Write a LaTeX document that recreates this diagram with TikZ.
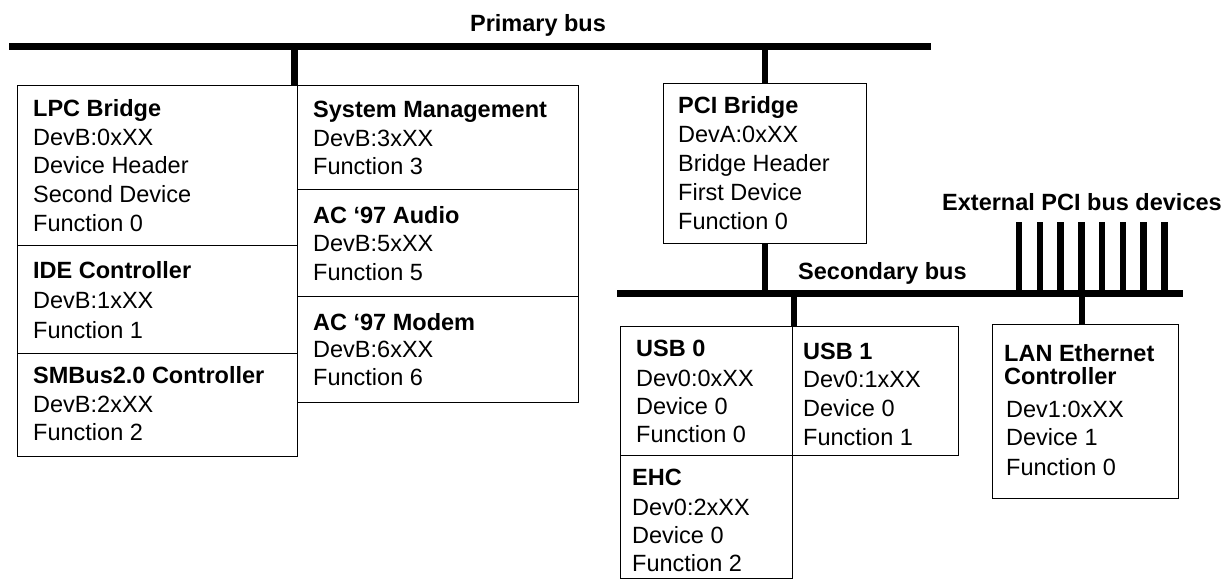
\documentclass[tikz,border=0pt]{standalone}
\usepackage{fontspec}
\setmainfont{Liberation Sans}
\begin{document}
\begin{tikzpicture}[x=1pt,y=-1pt,
  box/.style={draw, line width=1.3pt, anchor=north west, inner sep=0pt},
  bus/.style={line width=7pt},
  stub/.style={line width=6.5pt},
  txt/.style={anchor=base west, inner sep=0pt, font=\fontsize{23.5}{28}\selectfont},
  ttl/.style={anchor=base west, inner sep=0pt, font=\fontsize{23.5}{28}\selectfont\bfseries}]
\useasboundingbox (0,0) rectangle (1223,579);

% boxes
\node[box, minimum width=280pt, minimum height=160pt] (lpc) at (17,85) {};
\node[box, minimum width=280pt, minimum height=108pt] (ide) at (17,245) {};
\node[box, minimum width=280pt, minimum height=103pt] (smb) at (17,353) {};
\node[box, minimum width=281pt, minimum height=104pt] (sys) at (297,85) {};
\node[box, minimum width=281pt, minimum height=107pt] (aud) at (297,189) {};
\node[box, minimum width=281pt, minimum height=106pt] (mod) at (297,296) {};
\node[box, minimum width=203pt, minimum height=160pt] (pci) at (663,83) {};
\node[box, minimum width=171.5pt, minimum height=129pt] (usb0) at (620,326) {};
\node[box, minimum width=166.5pt, minimum height=129pt] (usb1) at (791.5,326) {};
\node[box, minimum width=171.5pt, minimum height=123pt] (ehc) at (620,455) {};
\node[box, minimum width=186pt, minimum height=174pt] (lan) at (992,324) {};

% buses
\coordinate (pbL) at (9,46);
\coordinate (pbR) at (931,46);
\draw[bus] (pbL) -- (pbR);
\coordinate (sbL) at (617,293);
\coordinate (sbR) at (1183,293);
\draw[bus] (sbL) -- (sbR);

% stubs
\coordinate (pb-lpc) at (294.5,46);
\draw[stub] (pb-lpc) -- (pb-lpc |- lpc.north);
\coordinate (pb-pci) at (765,46);
\draw[stub] (pb-pci) -- (pb-pci |- pci.north);
\draw[stub] (pb-pci |- pci.south) -- (pb-pci |- sbL);
\coordinate (sb-usb) at (794,293);
\draw[stub] (sb-usb) -- (sb-usb |- usb0.north);
\coordinate (sb-lan) at (1082,293);
\draw[stub] (sb-lan) -- (sb-lan |- lan.north);
\foreach \i in {0,...,7} {
  \coordinate (ext\i) at (1019+20.75*\i,222);
  \draw[stub] (ext\i) -- (ext\i |- sbR);
}

% bus labels
\node[ttl, anchor=base] (lblP) at (538,31.5) {Primary bus};
\node[ttl] (lblS) at (798,279.5) {Secondary bus};
\node[ttl] (lblE) at (942,210.5) {External PCI bus devices};

% LPC
\node[ttl] (lpc1) at (33,116.5) {LPC Bridge};
\node[txt] (lpc2) at (33,145.2) {DevB:0xXX};
\node[txt] (lpc3) at (33,173.9) {Device Header};
\node[txt] (lpc4) at (33,202.6) {Second Device};
\node[txt] (lpc5) at (33,231.3) {Function 0};
% IDE
\node[ttl] (ide1) at (33,278.5) {IDE Controller};
\node[txt] (ide2) at (33,308.5) {DevB:1xXX};
\node[txt] (ide3) at (33,338.5) {Function 1};
% SMBus
\node[ttl] (smb1) at (33,383.5) {SMBus2.0 Controller};
\node[txt] (smb2) at (33,412.5) {DevB:2xXX};
\node[txt] (smb3) at (33,440.5) {Function 2};
% System management
\node[ttl] (sys1) at (313,117.5) {System Management};
\node[txt] (sys2) at (313,146.5) {DevB:3xXX};
\node[txt] (sys3) at (313,174.5) {Function 3};
% Audio
\node[ttl] (aud1) at (313,223.5) {AC ‘97 Audio};
\node[txt] (aud2) at (313,251.5) {DevB:5xXX};
\node[txt] (aud3) at (313,280.5) {Function 5};
% Modem
\node[ttl] (mod1) at (313,330.5) {AC ‘97 Modem};
\node[txt] (mod2) at (313,357.5) {DevB:6xXX};
\node[txt] (mod3) at (313,385.5) {Function 6};
% PCI bridge
\node[ttl] (pci1) at (678,113.5) {PCI Bridge};
\node[txt] (pci2) at (678,142.5) {DevA:0xXX};
\node[txt] (pci3) at (678,171.5) {Bridge Header};
\node[txt] (pci4) at (678,200.5) {First Device};
\node[txt] (pci5) at (678,229.5) {Function 0};
% USB 0
\node[ttl] (u01) at (636,356.5) {USB 0};
\node[txt] (u02) at (636,386.5) {Dev0:0xXX};
\node[txt] (u03) at (636,414.5) {Device 0};
\node[txt] (u04) at (636,442.5) {Function 0};
% USB 1
\node[ttl] (u11) at (803,359.5) {USB 1};
\node[txt] (u12) at (803,387.5) {Dev0:1xXX};
\node[txt] (u13) at (803,416.5) {Device 0};
\node[txt] (u14) at (803,445.5) {Function 1};
% EHC
\node[ttl] (ehc1) at (632,485.5) {EHC};
\node[txt] (ehc2) at (632,515.5) {Dev0:2xXX};
\node[txt] (ehc3) at (632,543.5) {Device 0};
\node[txt] (ehc4) at (632,571.5) {Function 2};
% LAN
\node[ttl] (lan1) at (1004,361.5) {LAN Ethernet};
\node[ttl] (lan2) at (1004,384.5) {Controller};
\node[txt] (lan3) at (1006,417.5) {Dev1:0xXX};
\node[txt] (lan4) at (1006,445.5) {Device 1};
\node[txt] (lan5) at (1006,475.5) {Function 0};
\end{tikzpicture}
\end{document}
